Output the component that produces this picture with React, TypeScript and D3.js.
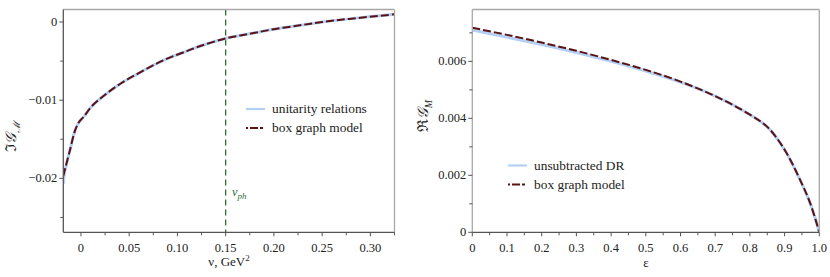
import React from 'react';
import * as d3 from 'd3';

// left panel: Im G_M vs nu
const nuUnitarity = [-0.0183, -0.0173, -0.0114, -0.0062, -0.002, 0.003, 0.011, 0.025, 0.042, 0.059, 0.077, 0.09, 0.106, 0.123, 0.15, 0.175, 0.2, 0.227, 0.25, 0.278, 0.325];
const imUnitarity = [-0.0207, -0.0195, -0.0164, -0.0139, -0.0128, -0.0121, -0.0108, -0.0093, -0.0078, -0.0066, -0.0054, -0.00465, -0.0039, -0.0031, -0.0021, -0.0015, -0.00092, -0.00042, 0.0, 0.0004, 0.00098];
const nuBox = [-0.0183, -0.0173, -0.0114, -0.0062, -0.002, 0.003, 0.011, 0.025, 0.042, 0.059, 0.077, 0.09, 0.106, 0.123, 0.15, 0.175, 0.2, 0.227, 0.25, 0.278, 0.325];
const imBox = [-0.0197, -0.0192, -0.0164, -0.0139, -0.0128, -0.0121, -0.0108, -0.0093, -0.0078, -0.0066, -0.0054, -0.00465, -0.0039, -0.0031, -0.0021, -0.0015, -0.00092, -0.00042, 0.0, 0.0004, 0.00098];
const nuPhoton = 0.15;
const leftXTicks = [0, 0.05, 0.1, 0.15, 0.2, 0.25, 0.3];
const leftXTickLabels = ['0', '0.05', '0.10', '0.15', '0.20', '0.25', '0.30'];
const leftXMinor = [-0.025, 0.025, 0.075, 0.125, 0.175, 0.225, 0.275, 0.325];
const leftYTicks = [0, -0.01, -0.02];
const leftYTickLabels = ['0', '\u22120.01', '\u22120.02'];
const leftYMinor = [-0.005, -0.015, -0.025];
const leftLegend = ['unitarity relations', 'box graph model'];

// right panel: Re G_M vs epsilon
const epsValues = [0, 0.1, 0.2, 0.3, 0.4, 0.5, 0.6, 0.7, 0.8, 0.85, 0.9, 0.95, 0.975, 1.0];
const reUnsubtracted = [0.0071, 0.00685, 0.00659, 0.00631, 0.006, 0.00566, 0.00527, 0.00478, 0.00413, 0.0037, 0.0029, 0.0017, 0.00098, 0];
const reBox = [0.00718, 0.00693, 0.00666, 0.00637, 0.00605, 0.0057, 0.00529, 0.00478, 0.00413, 0.0037, 0.0029, 0.0017, 0.00098, 0];
const rightXTicks = [0, 0.1, 0.2, 0.3, 0.4, 0.5, 0.6, 0.7, 0.8, 0.9, 1.0];
const rightXTickLabels = ['0', '0.1', '0.2', '0.3', '0.4', '0.5', '0.6', '0.7', '0.8', '0.9', '1.0'];
const rightXMinor = [0.05, 0.15, 0.25, 0.35, 0.45, 0.55, 0.65, 0.75, 0.85, 0.95];
const rightYTicks = [0, 0.002, 0.004, 0.006];
const rightYTickLabels = ['0', '0.002', '0.004', '0.006'];
const rightYMinor = [0.001, 0.003, 0.005, 0.007];
const rightLegend = ['unsubtracted DR', 'box graph model'];

const BLUE = '#b4d0f4';
const MAROON = '#5a1212';
const GREEN = '#2f6e34';
const DARK = '#555';
const LIGHT = '#a8a8a8';
const serif = { fontFamily: "'Liberation Serif', 'Times New Roman', Times, 'DejaVu Serif', serif" };

type PanelProps = {
  left: number; right: number; top: number; bottom: number;
  xDomain: [number, number]; yDomain: [number, number];
  xTicks: number[]; xLabels: string[]; xMinor: number[];
  yTicks: number[]; yLabels: string[]; yMinor: number[];
  leftAxisColor: string;
  children: (x: d3.ScaleLinear<number, number>, y: d3.ScaleLinear<number, number>) => React.ReactNode;
};

function Panel(p: PanelProps) {
  const x = d3.scaleLinear().domain(p.xDomain).range([p.left, p.right]);
  const y = d3.scaleLinear().domain(p.yDomain).range([p.bottom, p.top]);
  const clipId = 'clip' + Math.round(p.left);
  return (
    <g>
      <defs>
        <clipPath id={clipId}>
          <rect x={p.left} y={p.top} width={p.right - p.left} height={p.bottom - p.top} />
        </clipPath>
      </defs>
      <g clipPath={`url(#${clipId})`}>{p.children(x, y)}</g>
      {/* frame */}
      <line x1={p.left} x2={p.right} y1={p.top} y2={p.top} stroke={LIGHT} strokeWidth={1.3} />
      <line x1={p.right} x2={p.right} y1={p.top} y2={p.bottom} stroke={LIGHT} strokeWidth={1.3} />
      <line x1={p.left} x2={p.left} y1={p.top} y2={p.bottom} stroke={p.leftAxisColor} strokeWidth={1.3} />
      <line x1={p.left} x2={p.right} y1={p.bottom} y2={p.bottom} stroke={DARK} strokeWidth={1.3} />
      {p.xTicks.map((t, i) => (
        <g key={'xt' + i}>
          <line x1={x(t)} x2={x(t)} y1={p.bottom} y2={p.bottom + 4} stroke={DARK} />
          <text x={x(t)} y={p.bottom + 20} textAnchor="middle" fontSize={12.5} style={serif} fill="#222">{p.xLabels[i]}</text>
        </g>
      ))}
      {p.xMinor.filter(t => t >= p.xDomain[0] && t <= p.xDomain[1]).map((t, i) => (
        <line key={'xm' + i} x1={x(t)} x2={x(t)} y1={p.bottom} y2={p.bottom + 3} stroke={DARK} />
      ))}
      {p.yTicks.map((t, i) => (
        <g key={'yt' + i}>
          <line x1={p.left - 4} x2={p.left} y1={y(t)} y2={y(t)} stroke={DARK} />
          <text x={p.left - 6} y={y(t) + 4} textAnchor="end" fontSize={12.5} style={serif} fill="#222">{p.yLabels[i]}</text>
        </g>
      ))}
      {p.yMinor.filter(t => t >= Math.min(...p.yDomain) && t <= Math.max(...p.yDomain)).map((t, i) => (
        <line key={'ym' + i} x1={p.left - 3} x2={p.left} y1={y(t)} y2={y(t)} stroke={DARK} />
      ))}
    </g>
  );
}

function Legend({ x, y, labels }: { x: number; y: number; labels: string[] }) {
  return (
    <g fontSize={13.4} fill="#222" style={serif}>
      <line x1={x} x2={x + 19} y1={y} y2={y} stroke={BLUE} strokeWidth={2.2} />
      <text x={x + 26} y={y + 4}>{labels[0]}</text>
      <line x1={x} x2={x + 19} y1={y + 19} y2={y + 19} stroke={MAROON} strokeWidth={2} strokeDasharray="2,2,8,2,3" />
      <text x={x + 26} y={y + 23}>{labels[1]}</text>
    </g>
  );
}

export default function App() {
  const lineOf = (xs: number[], ys: number[], x: d3.ScaleLinear<number, number>, y: d3.ScaleLinear<number, number>) =>
    d3.line<number>().x((_, i) => x(xs[i])).y(d => y(d)).curve(d3.curveCatmullRom.alpha(0.5))(ys) || '';

  return (
    <svg width={830} height={277} style={{ position: 'absolute', left: 0, top: 0, background: '#fff' }}>
      <Panel left={63.3} right={394.5} top={9.5} bottom={232.3}
        xDomain={[-0.0183, 0.325]} yDomain={[-0.0269, 0.0016]}
        xTicks={leftXTicks} xLabels={leftXTickLabels} xMinor={leftXMinor}
        yTicks={leftYTicks} yLabels={leftYTickLabels} yMinor={leftYMinor}
        leftAxisColor={DARK}>
        {(x, y) => (
          <g>
            <line x1={x(nuPhoton)} x2={x(nuPhoton)} y1={9.5} y2={232.3} stroke={GREEN} strokeWidth={1.3} strokeDasharray="6,4" />
            <path d={lineOf(nuUnitarity, imUnitarity, x, y)} fill="none" stroke={BLUE} strokeWidth={3} />
            <path d={lineOf(nuBox, imBox, x, y)} fill="none" stroke={MAROON} strokeWidth={2} strokeDasharray="8,3" />
          </g>
        )}
      </Panel>
      <text x={232} y={196} fontStyle="italic" fontSize={12.5} fill={GREEN} style={serif}>
        ν<tspan fontSize={9} dy={3}>ph</tspan>
      </text>
      <Legend x={246} y={109} labels={leftLegend} />
      <text x={229} y={266} textAnchor="middle" fontSize={13} fill="#222" style={serif}>
        ν, GeV<tspan fontSize={9} dy={-5}>2</tspan>
      </text>
      <text transform="translate(16,136) rotate(-90)" textAnchor="middle" fontSize={15} fill="#222" style={serif}>
        ℑ<tspan fontStyle="italic">𝒢</tspan><tspan fontSize={10} dy={4} fontStyle="italic">ℳ</tspan>
      </text>

      <Panel left={472.3} right={819.3} top={9.5} bottom={232.3}
        xDomain={[0, 1]} yDomain={[0, 0.00782]}
        xTicks={rightXTicks} xLabels={rightXTickLabels} xMinor={rightXMinor}
        yTicks={rightYTicks} yLabels={rightYTickLabels} yMinor={rightYMinor}
        leftAxisColor={LIGHT}>
        {(x, y) => (
          <g>
            <path d={lineOf(epsValues, reUnsubtracted, x, y)} fill="none" stroke={BLUE} strokeWidth={3} />
            <path d={lineOf(epsValues, reBox, x, y)} fill="none" stroke={MAROON} strokeWidth={2} strokeDasharray="8,3" />
          </g>
        )}
      </Panel>
      <Legend x={508} y={165.5} labels={rightLegend} />
      <text x={646} y={267} textAnchor="middle" fontSize={13} fill="#222" style={serif}>ε</text>
      <text transform="translate(428,116) rotate(-90)" textAnchor="middle" fontSize={15} fill="#222" style={serif}>
        ℜ<tspan fontStyle="italic">𝒢</tspan><tspan fontSize={10} dy={4} fontStyle="italic">M</tspan>
      </text>
    </svg>
  );
}
